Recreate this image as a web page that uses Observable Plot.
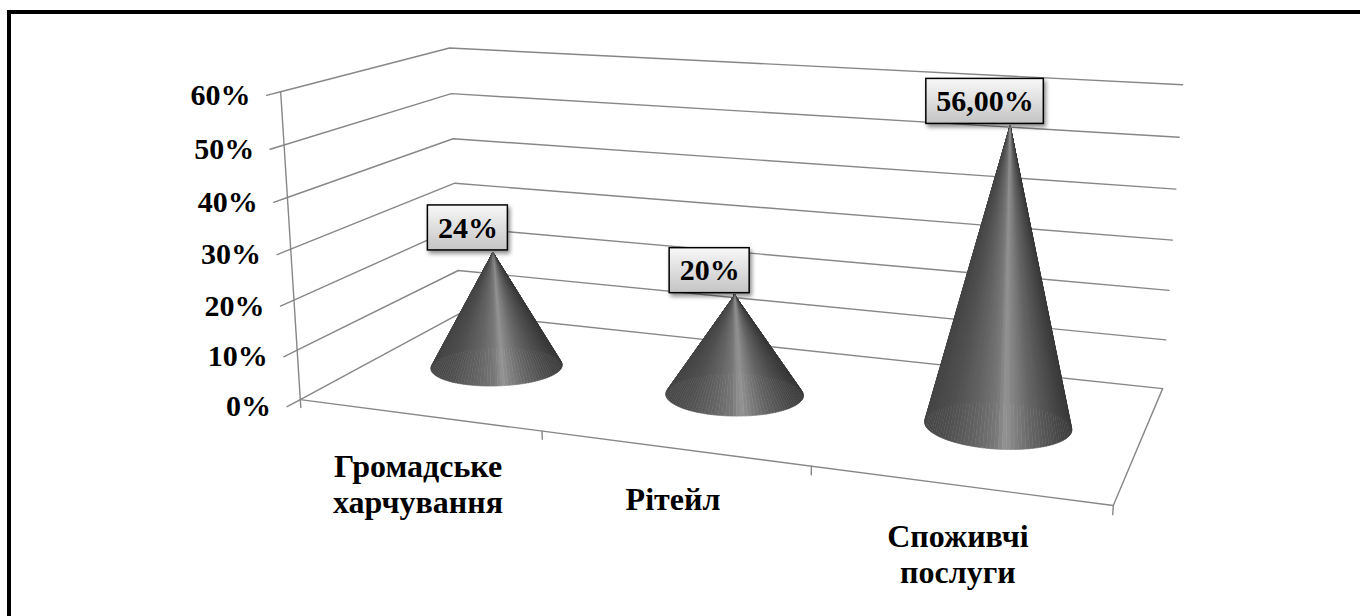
<!DOCTYPE html>
<html>
<head>
<meta charset="utf-8">
<script src="https://cdn.jsdelivr.net/npm/d3@7"></script>
<script src="https://cdn.jsdelivr.net/npm/@observablehq/plot@0.6"></script>
<style>
  html, body { margin: 0; padding: 0; background: #fff; }
  #chart { position: relative; width: 1360px; height: 616px; overflow: hidden; background: #fff; }
  #chart svg { position: absolute; left: 0; top: 0; }
  #chart svg text { font-family: 'Liberation Serif', 'Times New Roman', serif; font-weight: bold; }
  #chart .frame { position: absolute; left: 7px; top: 10px; right: -20px; bottom: -20px;
    border-left: 4px solid #000; border-top: 4px solid #000; pointer-events: none; }
</style>
</head>
<body>
<div id="chart"></div>
<script>
// ---- data -------------------------------------------------------------
const categories = ["Громадське харчування", "Рітейл", "Споживчі послуги"];
const categoryLabels = ["Громадське\nхарчування", "Рітейл", "Споживчі\nпослуги"];
const shares = [0.24, 0.20, 0.56];
const shareLabels = ["24%", "20%", "56,00%"];
const valueTicks = [0, 0.1, 0.2, 0.3, 0.4, 0.5, 0.6];
const valueTickLabels = ["0%", "10%", "20%", "30%", "40%", "50%", "60%"];

// ---- view -------------------------------------------------------------
const W = 1360, H = 616;
const DEPTH = 1.3;     // floor depth, in category widths
const RADIUS = 0.26;   // cone base radius, in category widths
const FONT = "'Liberation Serif', 'Times New Roman', serif";

// Page position of the plot box corners: [category edge, height (0..1), depth (0..1), x, y]
const boxAnchors = [
  [0, 0, 0, 300, 399], [3, 0, 0, 1113, 505], [0, 0, 1, 458, 313], [3, 0, 1, 1162, 388],
  [0, 1, 0, 280, 92], [0, 1, 1, 448, 47], [3, 1, 1, 1182, 84],
  [0, 0.5, 0, 290, 248], [0, 0.5, 1, 457, 183], [3, 0.5, 1, 1172, 240]
];

// Fit a pinhole camera (3x4 projection, last entry fixed to 1) to the box corners.
function fitCamera(anchors) {
  const rows = [], rhs = [];
  for (const [X, Y, Zf, u0, v0] of anchors) {
    const Z = Zf * DEPTH, u = (u0 - 680) / 400, v = (v0 - 300) / 400;
    rows.push([X, Y, Z, 1, 0, 0, 0, 0, -u * X, -u * Y, -u * Z]); rhs.push(u);
    rows.push([0, 0, 0, 0, X, Y, Z, 1, -v * X, -v * Y, -v * Z]); rhs.push(v);
  }
  const n = 11, M = Array.from({length: n}, () => new Float64Array(n + 1));
  rows.forEach((r, k) => {
    for (let i = 0; i < n; i++) {
      for (let j = 0; j < n; j++) M[i][j] += r[i] * r[j];
      M[i][n] += r[i] * rhs[k];
    }
  });
  for (let c = 0; c < n; c++) {
    let p = c;
    for (let r = c + 1; r < n; r++) if (Math.abs(M[r][c]) > Math.abs(M[p][c])) p = r;
    [M[c], M[p]] = [M[p], M[c]];
    for (let r = 0; r < n; r++) if (r !== c) {
      const f = M[r][c] / M[c][c];
      for (let j = c; j <= n; j++) M[r][j] -= f * M[c][j];
    }
  }
  const p = Array.from({length: n}, (_, i) => M[i][n] / M[i][i]);
  return ([X, Y, Z]) => {
    const w = p[8] * X + p[9] * Y + p[10] * Z + 1;
    return {
      x: 680 + 400 * (p[0] * X + p[1] * Y + p[2] * Z + p[3]) / w,
      y: 300 + 400 * (p[4] * X + p[5] * Y + p[6] * Z + p[7]) / w,
      w
    };
  };
}
const project = fitCamera(boxAnchors);

// Data → world scales
const band = Plot.scale({x: {type: "band", domain: categories, range: [0, categories.length], padding: 0}});
const height = Plot.scale({y: {type: "linear", domain: [0, 0.6], range: [0, 1]}});
const nCat = categories.length;
const center = (c) => band.apply(c) + band.bandwidth / 2;
const at = (X, value, depthFrac) => project([X, height.apply(value), depthFrac * DEPTH]);

// ---- frame: walls, floor, ticks --------------------------------------
const grid = valueTicks.flatMap((t, k) =>
  [[0, t, 0], [0, t, 1], [nCat, t, 1]].map(([X, v, d]) => ({id: "g" + k, ...at(X, v, d)})));
const axisLines = [
  [[0, 0, 0], [0, 0.6, 0]],
  [[0, 0, 0], [nCat, 0, 0]],
  [[nCat, 0, 0], [nCat, 0, 1]]
].flatMap((seg, k) => seg.map(([X, v, d]) => ({id: "a" + k, ...at(X, v, d)})));
const valueTickMarks = valueTicks.flatMap((t, k) =>
  [[0, t, 0], [0, t, -0.07]].map(([X, v, d]) => ({id: "v" + k, ...at(X, v, d)})));
const catEdges = [...categories.map((c) => band.apply(c)), nCat];
const catTickMarks = catEdges.flatMap((e, k) =>
  [[e, 0, 0], [e, -0.016, 0]].map(([X, v, d]) => ({id: "c" + k, ...at(X, v, d)})));
const valueTickText = valueTicks.map((t, k) => ({label: valueTickLabels[k], ...at(0, t, -0.07)}));
const catText = categories.map((c, i) => ({label: categoryLabels[i], ...at(center(c), 0, 0)}));

// ---- cones -------------------------------------------------------------
const shadeStops = [0, 0.15, 0.35, 0.48, 0.55, 0.6, 0.72, 0.86, 1];
const shadeColors = ["#454545", "#505050", "#656565", "#787878", "#949494", "#848484", "#676767", "#505050", "#393939"];
const shade = d3.scaleLinear().domain(shadeStops).range(shadeColors).clamp(true);
const N = 120;
const facets = [];
const apexes = [];
categories.forEach((c, i) => {
  const cx = center(c), cz = DEPTH / 2, h = height.apply(shares[i]);
  const apex = project([cx, h, cz]);
  apexes.push(apex);
  const rim = d3.range(N + 1).map((k) => {
    const a = 2 * Math.PI * k / N;
    return project([cx + RADIUS * Math.cos(a), 0, cz + RADIUS * Math.sin(a)]);
  });
  const [x0, x1] = d3.extent(rim, (d) => d.x);
  const tris = d3.range(N).map((k) => ({
    k, a: rim[k], b: rim[k + 1],
    w: (rim[k].w + rim[k + 1].w) / 2,
    t: ((rim[k].x + rim[k + 1].x) / 2 - x0) / (x1 - x0)
  }));
  tris.sort((p, q) => q.w - p.w); // far side first
  for (const {k, a, b, t} of tris) {
    const id = i + "-" + k, color = shade(t);
    facets.push({id, x: apex.x, y: apex.y, color}, {id, x: a.x, y: a.y, color}, {id, x: b.x, y: b.y, color});
  }
});

// ---- value tags --------------------------------------------------------
const ctx = document.createElement("canvas").getContext("2d");
ctx.font = "bold 30px " + FONT;
const tags = apexes.map((p, i) => {
  const w = ctx.measureText(shareLabels[i]).width + 20;
  const cx = p.x - 25, bottom = p.y - 2;
  return {label: shareLabels[i], x1: cx - w / 2, x2: cx + w / 2, y1: bottom - 45, y2: bottom, cx, cy: bottom - 22.5};
});

// ---- plot --------------------------------------------------------------
const gridStroke = "#878787";
const chart = Plot.plot({
  width: W, height: H, margin: 0,
  x: {domain: [0, W], range: [0, W], axis: null},
  y: {domain: [0, H], range: [0, H], axis: null},
  color: {type: "identity"},
  style: {background: "white"},
  marks: [
    Plot.line(grid, {x: "x", y: "y", z: "id", stroke: gridStroke, strokeWidth: 1.4}),
    Plot.line(axisLines, {x: "x", y: "y", z: "id", stroke: gridStroke, strokeWidth: 1.4}),
    Plot.line(valueTickMarks, {x: "x", y: "y", z: "id", stroke: gridStroke, strokeWidth: 1.4}),
    Plot.line(catTickMarks, {x: "x", y: "y", z: "id", stroke: gridStroke, strokeWidth: 1.4}),
    Plot.text(valueTickText, {x: "x", y: "y", text: "label", textAnchor: "end", lineAnchor: "middle",
      dx: -16, fontSize: 30, fontWeight: "bold", fill: "black", fontFamily: FONT}),
    Plot.text(catText, {x: "x", y: "y", text: "label", textAnchor: "middle", lineAnchor: "top",
      dy: 36, lineHeight: 1.13, fontSize: 32, fontWeight: "bold", fill: "black", fontFamily: FONT}),
    Plot.line(facets, {x: "x", y: "y", z: "id", fill: "color", stroke: "color", strokeWidth: 0.6, curve: "linear-closed"}),
    Plot.rect(tags, {x1: "x1", x2: "x2", y1: "y1", y2: "y2", fill: "url(#tagFill)", stroke: "black", strokeWidth: 1.5}),
    Plot.text(tags, {x: "cx", y: "cy", text: "label", lineAnchor: "middle", fontSize: 30, fontWeight: "bold",
      fill: "black", fontFamily: FONT})
  ]
});

// gradient fill and soft shadow for the value tags
const svg = d3.select(chart);
const defs = svg.insert("defs", ":first-child");
const g = defs.append("linearGradient").attr("id", "tagFill").attr("x1", 0).attr("y1", 0).attr("x2", 0).attr("y2", 1);
g.append("stop").attr("offset", 0).attr("stop-color", "#f8f8f8");
g.append("stop").attr("offset", 1).attr("stop-color", "#c4c4c4");
svg.selectAll('g[aria-label="rect"]').style("filter", "drop-shadow(2px 3px 2px rgba(0,0,0,0.45))");

const root = document.getElementById("chart");
root.appendChild(chart);
const frame = document.createElement("div");
frame.className = "frame";
root.appendChild(frame);
</script>
</body>
</html>
